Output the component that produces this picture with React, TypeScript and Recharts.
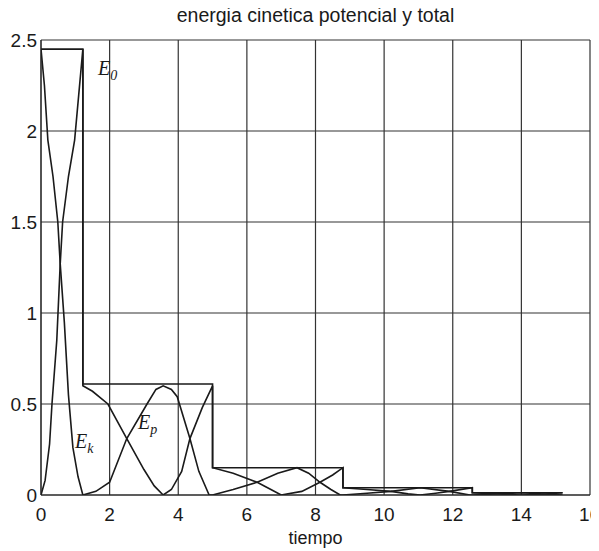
import { CartesianGrid, Line, LineChart, ReferenceDot, XAxis, YAxis } from 'recharts';

// axes
const xTicks = [0, 2, 4, 6, 8, 10, 12, 14, 16];
const yTicks = [0, 0.5, 1, 1.5, 2, 2.5];

// energia cinetica (E_k)
const kineticT = [
  0, 0.12, 0.25, 0.32, 0.46, 0.56, 0.63, 0.8, 0.98, 1.1, 1.22,
  1.22, 1.5, 1.95, 2.5, 3.0, 3.3, 3.56, 3.8, 4.1, 4.34, 4.7, 5.0,
  5.0, 5.6, 6.3, 6.7, 7.0, 7.6, 8.13, 8.5, 8.8,
  8.8, 9.5, 10.2, 10.7, 11.05, 11.5, 11.9, 12.57,
  12.57, 13.5, 14.0, 14.6, 15.2,
];
const kineticE = [
  0, 0.08, 0.28, 0.5, 0.85, 1.27, 1.5, 1.75, 1.95, 2.2, 2.45,
  0.6, 0.57, 0.5, 0.31, 0.14, 0.05, 0, 0.03, 0.13, 0.31, 0.48, 0.6,
  0.15, 0.12, 0.07, 0.03, 0, 0.02, 0.07, 0.11, 0.15,
  0.04, 0.03, 0.02, 0.006, 0, 0.01, 0.02, 0.04,
  0.012, 0.004, 0, 0.004, 0.012,
];

// energia potencial (E_p)
const potentialT = [
  0, 0.1, 0.2, 0.35, 0.49, 0.56, 0.68, 0.8, 0.93, 1.08, 1.22,
  1.6, 2.0, 2.5, 3.09, 3.35, 3.56, 3.8, 3.97, 4.34, 4.6, 4.9,
  5.0, 5.6, 6.3, 6.9, 7.46, 7.8, 8.13, 8.45, 8.72,
  8.8, 9.5, 10.2, 11.05, 11.9, 12.5,
  12.57, 14.0, 15.2,
];
const potentialE = [
  2.45, 2.25, 1.95, 1.75, 1.5, 1.27, 0.95, 0.55, 0.26, 0.1, 0,
  0.02, 0.07, 0.31, 0.5, 0.58, 0.6, 0.58, 0.54, 0.31, 0.13, 0,
  0, 0.03, 0.07, 0.12, 0.15, 0.12, 0.07, 0.03, 0,
  0, 0.01, 0.02, 0.04, 0.02, 0,
  0, 0.012, 0,
];

// energia total
const totalT = [0, 1.22, 1.22, 5.0, 5.0, 8.8, 8.8, 12.57, 12.57, 15.2];
const totalE = [2.45, 2.45, 0.61, 0.61, 0.15, 0.15, 0.04, 0.04, 0.012, 0.012];

// curve labels: [t, E, main, subscript]
const labels: [number, number, string, string][] = [
  [1.66, 2.31, 'E', '0'],
  [2.83, 0.36, 'E', 'p'],
  [0.99, 0.26, 'E', 'k'],
];

const toPoints = (ts: number[], es: number[]) => ts.map((t, i) => ({ t, e: es[i] }));

const kinetic = toPoints(kineticT, kineticE);
const potential = toPoints(potentialT, potentialE);
const total = toPoints(totalT, totalE);

const font = '"Liberation Sans", Arial, sans-serif';
const ink = '#1a1a1a';

function CurveLabel({ cx, cy, main, sub }: { cx?: number; cy?: number; main: string; sub: string }) {
  if (cx == null || cy == null) return null;
  return (
    <text
      x={cx}
      y={cy}
      fontFamily='"Liberation Serif", "Times New Roman", serif'
      fontStyle="italic"
      fontSize={20}
      fill={ink}
    >
      {main}
      <tspan dy={5} fontSize={14}>
        {sub}
      </tspan>
    </text>
  );
}

export default function App() {
  return (
    <div style={{ position: 'relative', width: 591, height: 543, fontFamily: font }}>
      <div
        style={{
          position: 'absolute',
          top: -2,
          left: 33,
          width: 549,
          textAlign: 'center',
          fontSize: 19.5,
          lineHeight: '19.5px',
          color: ink,
        }}
      >
        energia cinetica potencial y total
      </div>
      <LineChart width={591} height={543} margin={{ top: 32, right: 9, bottom: 0, left: 0 }}>
        <CartesianGrid stroke="#333" strokeWidth={1.2} />
        <XAxis
          dataKey="t"
          type="number"
          domain={[0, 16]}
          ticks={xTicks}
          allowDataOverflow
          height={56}
          tickLine={false}
          tickSize={0}
          tickMargin={13}
          stroke="#222"
          tick={{ fontSize: 19, fill: ink, fontFamily: font }}
          label={{ value: 'tiempo', position: 'insideBottom', offset: 7, fontSize: 18, fill: ink, fontFamily: font }}
        />
        <YAxis
          type="number"
          domain={[0, 2.5]}
          ticks={yTicks}
          allowDataOverflow
          width={33}
          tickLine={false}
          tickSize={0}
          tickMargin={4}
          stroke="#222"
          tick={{ fontSize: 19, fill: ink, fontFamily: font }}
        />
        <Line data={total} dataKey="e" type="linear" stroke={ink} strokeWidth={1.6} dot={false} isAnimationActive={false} />
        <Line data={potential} dataKey="e" type="linear" stroke={ink} strokeWidth={1.6} dot={false} isAnimationActive={false} />
        <Line data={kinetic} dataKey="e" type="linear" stroke={ink} strokeWidth={1.6} dot={false} isAnimationActive={false} />
        {labels.map(([t, e, main, sub]) => (
          <ReferenceDot
            key={main + sub}
            x={t}
            y={e}
            r={0}
            shape={(p: any) => <CurveLabel cx={p.cx} cy={p.cy} main={main} sub={sub} />}
          />
        ))}
      </LineChart>
    </div>
  );
}
